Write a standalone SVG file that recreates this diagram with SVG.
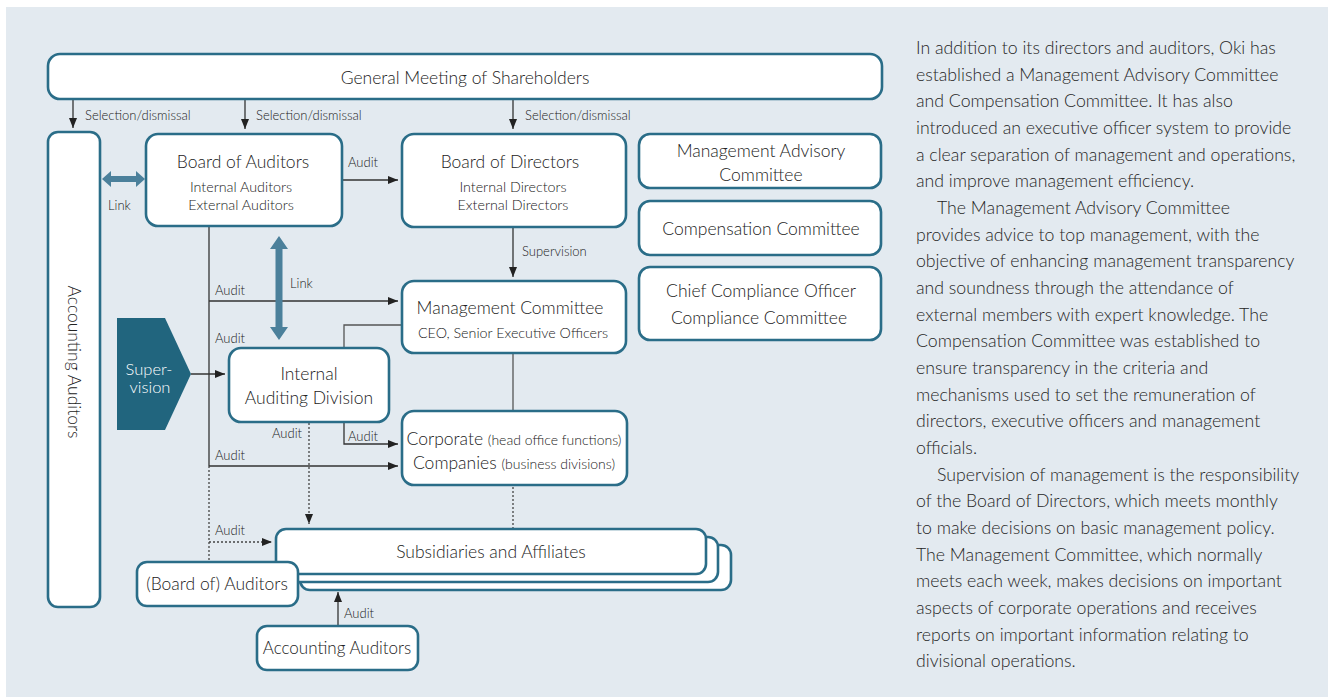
<svg xmlns="http://www.w3.org/2000/svg" width="1328" height="697" viewBox="0 0 1328 697">
<defs>
<style>
.bg{fill:#e3eaf0}
.box{fill:#fff;stroke:#2a6d88;stroke-width:2.6}
.t{font-family:Lato,"Open Sans","Liberation Sans",sans-serif;font-weight:300;fill:#222;text-anchor:middle}
.t16{font-size:17.5px}
.t13{font-size:14.3px}
.lbl{font-family:Lato,"Open Sans","Liberation Sans",sans-serif;font-weight:300;fill:#222;font-size:13px}
.ln{fill:none;stroke:#333;stroke-width:1.3}
.gl{fill:none;stroke:#555;stroke-width:1.3}
.dt{fill:none;stroke:#444;stroke-width:1.3;stroke-dasharray:2 2}
.link{fill:#4b809b}
.body{font-family:Lato,"Open Sans","Liberation Sans",sans-serif;font-weight:300;fill:#262626;font-size:17.7px}
</style>
<marker id="ah" viewBox="0 0 10 8" refX="10" refY="4" markerWidth="10" markerHeight="8" markerUnits="userSpaceOnUse" orient="auto">
<path d="M0,0 L10,4 L0,8 z" fill="#222"/>
</marker>
</defs>
<rect class="bg" x="6" y="7" width="1322" height="690"/>

<g id="connectors">
<path class="ln" d="M73,100 V128" marker-end="url(#ah)"/>
<path class="ln" d="M245,100 V129" marker-end="url(#ah)"/>
<path class="ln" d="M513,100 V129" marker-end="url(#ah)"/>
<path class="ln" d="M343,180 H398" marker-end="url(#ah)"/>
<path class="ln" d="M513,228 V277" marker-end="url(#ah)"/>
<path class="ln" d="M209,227 V466"/>
<path class="ln" d="M209,301 H398" marker-end="url(#ah)"/>
<path class="ln" d="M209,466 H398" marker-end="url(#ah)"/>
<path class="ln" d="M191,374 H225" marker-end="url(#ah)"/>
<path class="gl" d="M344,347 V325 H402"/>
<path class="gl" d="M513,354 V411"/>
<path class="ln" d="M344,423 V444 H398" marker-end="url(#ah)"/>
<path class="dt" d="M309,423 V524" marker-end="url(#ah)"/>
<path class="dt" d="M513,487 V528"/>
<path class="dt" d="M209,466 V562"/>
<path class="dt" d="M209,542 H272" marker-end="url(#ah)"/>
<path class="ln" d="M338,626 V592" marker-end="url(#ah)"/>
<polygon class="link" points="102,179 111,171 111,176 136,176 136,171 145,179 136,187 136,182 111,182 111,187"/>
<polygon class="link" points="279,236 288,249 282.5,249 282.5,327 288,327 279,340 270,327 275.5,327 275.5,249 270,249"/>
<text class="lbl" x="85" y="120">Selection/dismissal</text>
<text class="lbl" x="256" y="120">Selection/dismissal</text>
<text class="lbl" x="525" y="120">Selection/dismissal</text>
<text class="lbl" x="348" y="167">Audit</text>
<text class="lbl" x="108" y="210">Link</text>
<text class="lbl" x="522" y="256">Supervision</text>
<text class="lbl" x="290" y="288">Link</text>
<text class="lbl" x="215" y="295">Audit</text>
<text class="lbl" x="215" y="343">Audit</text>
<text class="lbl" x="272" y="438">Audit</text>
<text class="lbl" x="348" y="441">Audit</text>
<text class="lbl" x="215" y="460">Audit</text>
<text class="lbl" x="215" y="535">Audit</text>
<text class="lbl" x="344" y="618">Audit</text>
</g>

<g id="general-meeting">
<rect class="box" x="48" y="54" width="834" height="45" rx="12"/>
<text class="t t16" x="465" y="84">General Meeting of Shareholders</text>
</g>

<g id="accounting-auditors-side">
<rect class="box" x="48" y="132" width="52" height="475" rx="10"/>
<text class="t t16" transform="translate(68,362) rotate(90)">Accounting Auditors</text>
</g>

<g id="board-of-auditors">
<rect class="box" x="146" y="134" width="196" height="92" rx="12"/>
<text class="t t16" x="243" y="168">Board of Auditors</text>
<text class="t t13" x="241" y="192">Internal Auditors</text>
<text class="t t13" x="241" y="210">External Auditors</text>
</g>

<g id="board-of-directors">
<rect class="box" x="402" y="134" width="224" height="93" rx="12"/>
<text class="t t16" x="510" y="168">Board of Directors</text>
<text class="t t13" x="513" y="192">Internal Directors</text>
<text class="t t13" x="513" y="210">External Directors</text>
</g>

<g id="management-advisory">
<rect class="box" x="639" y="134" width="242" height="54" rx="11"/>
<text class="t t16" x="761" y="157">Management Advisory</text>
<text class="t t16" x="761" y="181">Committee</text>
</g>

<g id="compensation-committee">
<rect class="box" x="639" y="201" width="242" height="54" rx="11"/>
<text class="t t16" x="761" y="235">Compensation Committee</text>
</g>

<g id="compliance">
<rect class="box" x="639" y="267" width="242" height="73" rx="11"/>
<text class="t t16" x="761" y="297">Chief Compliance Officer</text>
<text class="t t16" x="759" y="324">Compliance Committee</text>
</g>

<g id="management-committee">
<rect class="box" x="402" y="281" width="224" height="72" rx="12"/>
<text class="t t16" x="510" y="314">Management Committee</text>
<text class="t t13" x="513" y="338">CEO, Senior Executive Officers</text>
</g>

<g id="supervision">
<polygon points="117,318 165,318 191,374 165,430 117,430" fill="#21657e"/>
<text class="t" x="149" y="375" font-size="16.5" style="fill:#fff">Super-</text>
<text class="t" x="150" y="393" font-size="16.5" style="fill:#fff">vision</text>
</g>

<g id="internal-auditing">
<rect class="box" x="229" y="348" width="160" height="74" rx="12"/>
<text class="t t16" x="309" y="380">Internal</text>
<text class="t t16" x="309" y="404">Auditing Division</text>
</g>

<g id="corporate">
<rect class="box" x="402" y="411" width="225" height="74" rx="12"/>
<text class="t" x="514" y="445"><tspan font-size="17.5">Corporate </tspan><tspan font-size="14">(head office functions)</tspan></text>
<text class="t" x="514" y="469"><tspan font-size="17.5">Companies </tspan><tspan font-size="14">(business divisions)</tspan></text>
</g>

<g id="subsidiaries">
<rect class="box" x="300" y="545" width="431" height="45" rx="10"/>
<rect class="box" x="288" y="537" width="430" height="45" rx="10"/>
<rect class="box" x="276" y="529" width="430" height="45" rx="10"/>
<text class="t t16" x="491" y="558">Subsidiaries and Affiliates</text>
</g>

<g id="board-of-auditors-sub">
<rect class="box" x="137" y="562" width="161" height="44" rx="10"/>
<text class="t t16" x="217" y="590">(Board of) Auditors</text>
</g>

<g id="accounting-auditors-bottom">
<rect class="box" x="257" y="626" width="161" height="44" rx="10"/>
<text class="t" x="337" y="654" font-size="17">Accounting Auditors</text>
</g>

<g id="body-text">
<text class="body" x="916" y="54">In addition to its directors and auditors, Oki has</text>
<text class="body" x="916" y="81">established a Management Advisory Committee</text>
<text class="body" x="916" y="107">and Compensation Committee. It has also</text>
<text class="body" x="916" y="134">introduced an executive officer system to provide</text>
<text class="body" x="916" y="161">a clear separation of management and operations,</text>
<text class="body" x="916" y="187">and improve management efficiency.</text>
<text class="body" x="937" y="214">The Management Advisory Committee</text>
<text class="body" x="916" y="241">provides advice to top management, with the</text>
<text class="body" x="916" y="267">objective of enhancing management transparency</text>
<text class="body" x="916" y="294">and soundness through the attendance of</text>
<text class="body" x="916" y="321">external members with expert knowledge. The</text>
<text class="body" x="916" y="347">Compensation Committee was established to</text>
<text class="body" x="916" y="374">ensure transparency in the criteria and</text>
<text class="body" x="916" y="401">mechanisms used to set the remuneration of</text>
<text class="body" x="916" y="427">directors, executive officers and management</text>
<text class="body" x="916" y="454">officials.</text>
<text class="body" x="937" y="481">Supervision of management is the responsibility</text>
<text class="body" x="916" y="507">of the Board of Directors, which meets monthly</text>
<text class="body" x="916" y="534">to make decisions on basic management policy.</text>
<text class="body" x="916" y="561">The Management Committee, which normally</text>
<text class="body" x="916" y="587">meets each week, makes decisions on important</text>
<text class="body" x="916" y="614">aspects of corporate operations and receives</text>
<text class="body" x="916" y="641">reports on important information relating to</text>
<text class="body" x="916" y="667">divisional operations.</text>
</g>
</svg>
